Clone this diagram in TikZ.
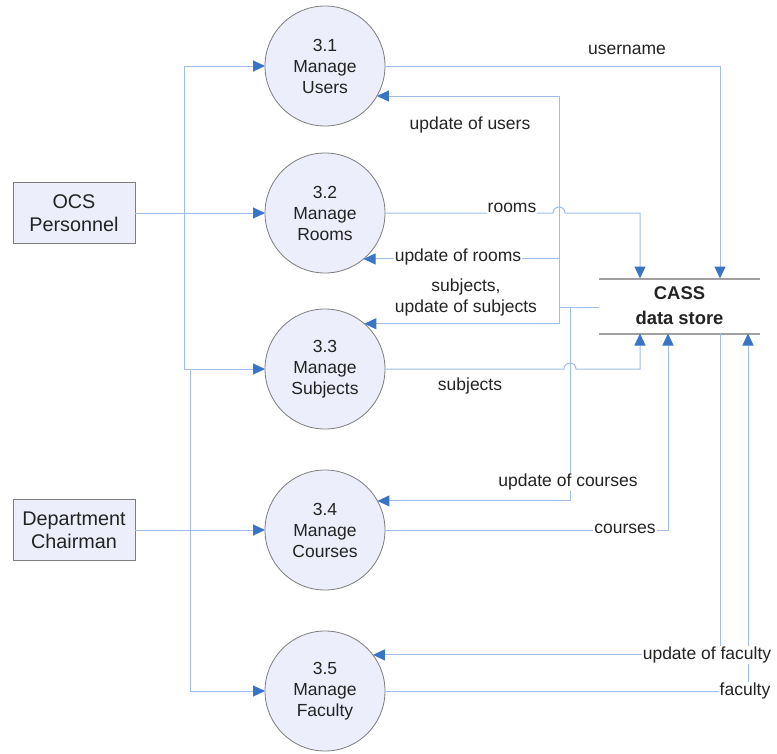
\documentclass[tikz,border=0pt]{standalone}
\usepackage{fontspec}
\setmainfont{Liberation Sans}
\usetikzlibrary{arrows.meta}
\definecolor{flowline}{RGB}{160,190,232}
\definecolor{tipblue}{RGB}{58,116,196}
\definecolor{procfill}{RGB}{236,238,252}
\definecolor{edgegray}{RGB}{125,125,125}
\definecolor{storegray}{RGB}{160,160,160}
\definecolor{txt}{RGB}{35,35,35}
\begin{document}
\begin{tikzpicture}[x=1pt,y=-1pt,
  every node/.style={font=\fontsize{17.5}{21}\selectfont, text=txt},
  proc/.style={circle, draw=edgegray, fill=procfill, minimum size=120pt,
    inner sep=0pt, outer sep=0pt, align=center, line width=0.8pt},
  entity/.style={rectangle, draw=edgegray, fill=procfill, minimum width=122pt,
    minimum height=61pt, align=center, outer sep=0pt, line width=0.8pt,
    font=\fontsize{19.8}{23}\selectfont},
  flow/.style={draw=flowline, line width=1pt},
  arr/.style={flow, -{Triangle[length=12pt,width=11pt,color=tipblue]}},
  lbl/.style={fill=white, inner sep=1pt},
  storeline/.style={draw=storegray, line width=2pt},
]
\useasboundingbox (0,0) rectangle (777,753);

% external entities
\node[entity] (ocs)  at (74,213) {OCS\\Personnel};
\node[entity] (dept) at (74,530) {Department\\Chairman};

% processes
\node[proc] (p1) at (325,66)  {3.1\\Manage\\Users};
\node[proc] (p2) at (325,213) {3.2\\Manage\\Rooms};
\node[proc] (p3) at (325,369) {3.3\\Manage\\Subjects};
\node[proc] (p4) at (325,530) {3.4\\Manage\\Courses};
\node[proc] (p5) at (325,691) {3.5\\Manage\\Faculty};

% data store
\node[minimum width=161pt, minimum height=55pt, inner sep=0pt, outer sep=0pt, align=center,
  font=\fontsize{18.4}{25}\selectfont\bfseries]
  (store) at (679.5,306) {CASS\\data store};
\draw[storeline] (store.north west) -- (store.north east);
\draw[storeline] (store.south west) -- (store.south east);

% store inlet / outlet points
\coordinate (topA) at (640,278.5);
\coordinate (topB) at (720,278.5);
\coordinate (botA) at (640,333.5);
\coordinate (botB) at (668,333.5);
\coordinate (botC) at (720,333.5);
\coordinate (botD) at (748,333.5);

% OCS Personnel flows
\coordinate (ocsbus) at (184,213);
\draw[arr] (ocs) -- (p2);
\draw[arr] (ocsbus) |- (p1.west);
\draw[arr] (ocsbus) |- (p3.west);

% Department Chairman flows
\coordinate (deptbus) at (190,530);
\draw[arr] (dept) -- (p4);
\draw[arr] (p3.west -| deptbus) |- (p5.west);

% process outputs into the store
\draw[arr] (p1.east) -| (topB);
\draw[arr] (p2.east) -- (553,213) arc[start angle=180, end angle=0, radius=6pt] -| (topA);
\draw[arr] (p3.east) -- (564,369) arc[start angle=180, end angle=0, radius=6pt] -| (botA);
\draw[arr] (p4.east) -| (botB);
\draw[arr] (p5.east) -| (botD);

% store outputs back to the processes
\coordinate (busU) at (559,307);
\coordinate (busC) at (570,307);
\draw[flow] (store.west |- busU) -- (busU);
\draw[arr] (busU) |- (p1.-30);
\draw[arr] (busU) |- (p2.-50);
\draw[arr] (busU) |- (p3.49);
\draw[arr] (busC) |- (p4.29);
\draw[arr] (botC) |- (p5.37);

% flow labels
\node (lusername) at (627,50) {username};
\node (lupdusers) at (470,125) {update of users};
\node[lbl] (lrooms) at (512,208) {rooms};
\node[lbl] (lupdrooms) at (458,257) {update of rooms};
\node[align=center] (lupdsubj) at (466,297) {subjects,\\update of subjects};
\node (lsubj) at (470,386) {subjects};
\node[lbl] (lupdcourses) at (568,482) {update of courses};
\node[lbl] (lcourses) at (625,529) {courses};
\node[lbl] (lupdfac) at (707,655) {update of faculty};
\node[lbl] (lfac) at (745,691) {faculty};
\end{tikzpicture}
\end{document}
